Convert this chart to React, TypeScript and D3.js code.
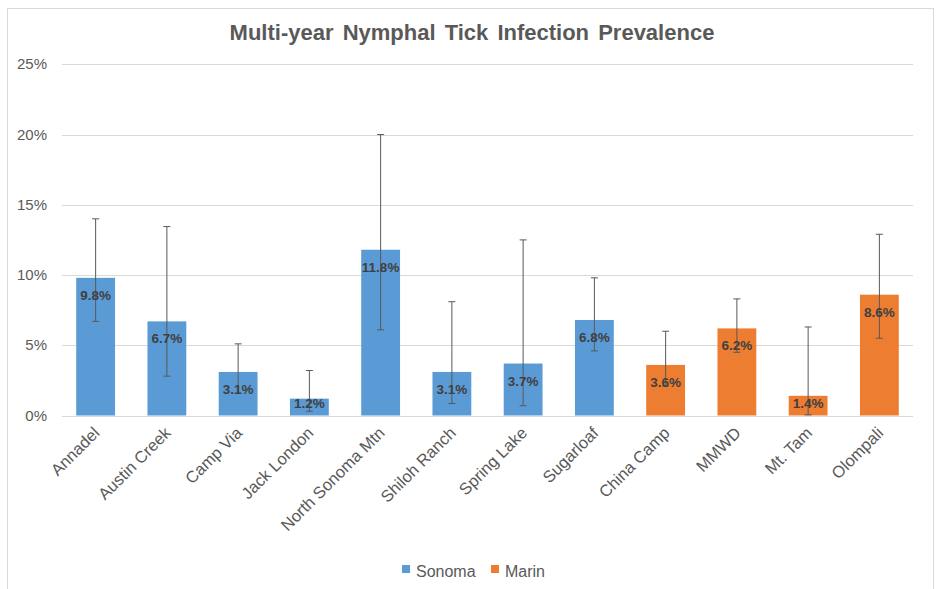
import React from 'react';
import * as d3 from 'd3';

const sites = ['Annadel', 'Austin Creek', 'Camp Via', 'Jack London', 'North Sonoma Mtn', 'Shiloh Ranch', 'Spring Lake', 'Sugarloaf', 'China Camp', 'MMWD', 'Mt. Tam', 'Olompali'];
const county = ['Sonoma', 'Sonoma', 'Sonoma', 'Sonoma', 'Sonoma', 'Sonoma', 'Sonoma', 'Sonoma', 'Marin', 'Marin', 'Marin', 'Marin'];
const prevalence = [9.8, 6.7, 3.1, 1.2, 11.8, 3.1, 3.7, 6.8, 3.6, 6.2, 1.4, 8.6];
const upper = [14.0, 13.45, 5.1, 3.2, 20.0, 8.1, 12.5, 9.8, 6.0, 8.3, 6.3, 12.9];
const lower = [6.7, 2.8, 1.6, 0.3, 6.1, 0.85, 0.7, 4.6, 2.1, 4.5, 0.05, 5.5];
const yTicks = [0, 5, 10, 15, 20, 25];
const seriesNames = ['Sonoma', 'Marin'];
const seriesColors = ['#5B9BD5', '#ED7D31'];

const W = 936;
const H = 589;
const FONT = '"Liberation Sans", Arial, sans-serif';
const TEXT = '#595959';

const App: React.FC = () => {
  const x = d3.scaleBand<string>()
    .domain(sites)
    .range([60, 915])
    .paddingInner(0.455)
    .paddingOuter(0.2275);
  const y = d3.scaleLinear().domain([0, 25]).range([415.5, 64.3]);
  const color = d3.scaleOrdinal<string, string>().domain(seriesNames).range(seriesColors);
  const bw = x.bandwidth();

  return (
    <div style={{ position: 'absolute', left: 0, top: 0 }}>
      <svg width={W} height={H} style={{ display: 'block', fontFamily: FONT }}>
        <rect x={0} y={0} width={W} height={H} fill="#fff" />
        <rect x={7.5} y={8.5} width={926} height={600} fill="#fff" stroke="#d9d9d9" />

        <text x={472} y={40} textAnchor="middle" fontSize={22} fontWeight="bold" fill={TEXT} wordSpacing={3}>
          Multi-year Nymphal Tick Infection Prevalence
        </text>

        {yTicks.map(t => (
          <g key={t}>
            <line x1={62} x2={913} y1={Math.round(y(t)) + 0.5} y2={Math.round(y(t)) + 0.5} stroke="#d9d9d9" strokeWidth={1} />
            <text x={47} y={y(t) + 5} textAnchor="end" fontSize={15} fill={TEXT}>{t}%</text>
          </g>
        ))}

        {sites.map((s, i) => {
          const cx = (x(s) as number) + bw / 2;
          const top = y(prevalence[i]);
          const base = y(0);
          const labelY = Math.min(top + 17.5, base - 12) + 4.5;
          return (
            <g key={s}>
              <rect x={x(s)} y={top} width={bw} height={base - top} fill={color(county[i])} />
              <line x1={cx} x2={cx} y1={y(upper[i])} y2={y(lower[i])} stroke="#595959" strokeWidth={1} />
              <line x1={cx - 3.5} x2={cx + 3.5} y1={y(upper[i])} y2={y(upper[i])} stroke="#595959" strokeWidth={1} />
              <line x1={cx - 3.5} x2={cx + 3.5} y1={y(lower[i])} y2={y(lower[i])} stroke="#595959" strokeWidth={1} />
              <text x={cx} y={labelY} textAnchor="middle" fontSize={13.5} fontWeight="bold" fill="#404040">
                {prevalence[i].toFixed(1)}%
              </text>
              <text
                transform={`translate(${cx + 5},${434}) rotate(-45)`}
                textAnchor="end"
                fontSize={16.5}
                fill={TEXT}
              >
                {s}
              </text>
            </g>
          );
        })}

        {seriesNames.map((n, i) => {
          const lx = i === 0 ? 402 : 491;
          return (
            <g key={n}>
              <rect x={lx} y={565} width={8} height={8} fill={color(n)} />
              <text x={lx + 14} y={577} fontSize={16} fill={TEXT}>{n}</text>
            </g>
          );
        })}
      </svg>
    </div>
  );
};

export default App;
